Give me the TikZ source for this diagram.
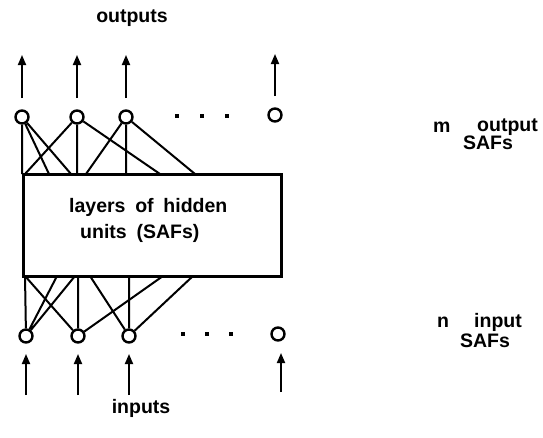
\documentclass[tikz,border=0pt]{standalone}
\usepackage{fontspec}
\setmainfont{Liberation Sans}
\usetikzlibrary{arrows.meta}
\newcommand\lblfont{\fontsize{19.5}{23}\selectfont\bfseries\spaceskip=0.5em\relax}
\begin{document}
\begin{tikzpicture}[x=1pt,y=-1pt,
  unit/.style={circle,draw,line width=2.4pt,minimum size=13pt,inner sep=0pt},
  link/.style={line width=2pt},
  io/.style={line width=1.8pt,-{Triangle[length=10pt,width=8pt]}},
  dot/.style={fill,minimum size=4.5pt,inner sep=0pt},
  lbl/.style={font=\lblfont,inner sep=0pt}]
\useasboundingbox (0,0) rectangle (543,437);
% box
\draw[line width=3pt] (23,174) rectangle (281,276);
\node[lbl,anchor=west] (l1) at (69,207) {layers of hidden};
\node[lbl,anchor=west] (l2) at (80,233) {units (SAFs)};
% top units
\node[unit] (o1) at (22,117) {};
\node[unit] (o2) at (77,117) {};
\node[unit] (o3) at (126,117) {};
\node[unit] (o4) at (275,115) {};
\node[dot] (td1) at (177,116) {};
\node[dot] (td2) at (202,116) {};
\node[dot] (td3) at (227,116) {};
% bottom units
\node[unit] (i1) at (26,336) {};
\node[unit] (i2) at (78,336) {};
\node[unit] (i3) at (129,336) {};
\node[unit] (i4) at (278,334) {};
\node[dot] (bd1) at (183,334) {};
\node[dot] (bd2) at (207,334) {};
\node[dot] (bd3) at (231,334) {};
% top box coordinates
\coordinate (t1a) at (22,174);
\coordinate (t1b) at (49,174);
\coordinate (t1c) at (71,174);
\coordinate (t2a) at (25,174);
\coordinate (t2b) at (77,174);
\coordinate (t2c) at (160,174);
\coordinate (t3a) at (86,174);
\coordinate (t3b) at (126,174);
\coordinate (t3c) at (195,174);
\draw[link] (o1) -- (t1a) (o1) -- (t1b) (o1) -- (t1c);
\draw[link] (o2) -- (t2a) (o2) -- (t2b) (o2) -- (t2c);
\draw[link] (o3) -- (t3a) (o3) -- (t3b) (o3) -- (t3c);
% bottom box coordinates
\coordinate (b1a) at (25,276);
\coordinate (b1b) at (57,276);
\coordinate (b1c) at (75,276);
\coordinate (b2a) at (25,276);
\coordinate (b2b) at (78,276);
\coordinate (b2c) at (163,276);
\coordinate (b3a) at (90,276);
\coordinate (b3b) at (129,276);
\coordinate (b3c) at (193,276);
\draw[link] (i1) -- (b1a) (i1) -- (b1b) (i1) -- (b1c);
\draw[link] (i2) -- (b2a) (i2) -- (b2b) (i2) -- (b2c);
\draw[link] (i3) -- (b3a) (i3) -- (b3b) (i3) -- (b3c);
% output arrows
\coordinate (oa1) at (22,98);  \coordinate (ot1) at (22,55);
\coordinate (oa2) at (77,98);  \coordinate (ot2) at (77,55);
\coordinate (oa3) at (126,98); \coordinate (ot3) at (126,55);
\coordinate (oa4) at (275,96); \coordinate (ot4) at (275,54);
\draw[io] (oa1) -- (ot1);
\draw[io] (oa2) -- (ot2);
\draw[io] (oa3) -- (ot3);
\draw[io] (oa4) -- (ot4);
% input arrows
\coordinate (ia1) at (26,395);  \coordinate (it1) at (26,354);
\coordinate (ia2) at (78,395);  \coordinate (it2) at (78,354);
\coordinate (ia3) at (129,395); \coordinate (it3) at (129,354);
\coordinate (ia4) at (281,392); \coordinate (it4) at (281,353);
\draw[io] (ia1) -- (it1);
\draw[io] (ia2) -- (it2);
\draw[io] (ia3) -- (it3);
\draw[io] (ia4) -- (it4);
% labels
\node[lbl] (outs) at (132,18) {outputs};
\node[lbl] (ins) at (141,408) {inputs};
\node[lbl,anchor=west] (m) at (433,127) {m};
\node[lbl,anchor=west] (mo) at (477,127) {output};
\node[lbl] (ms) at (488,143) {SAFs};
\node[lbl,anchor=west] (n) at (437,322) {n};
\node[lbl,anchor=west] (ni) at (474,322) {input};
\node[lbl] (ns) at (485,341) {SAFs};
\end{tikzpicture}
\end{document}
